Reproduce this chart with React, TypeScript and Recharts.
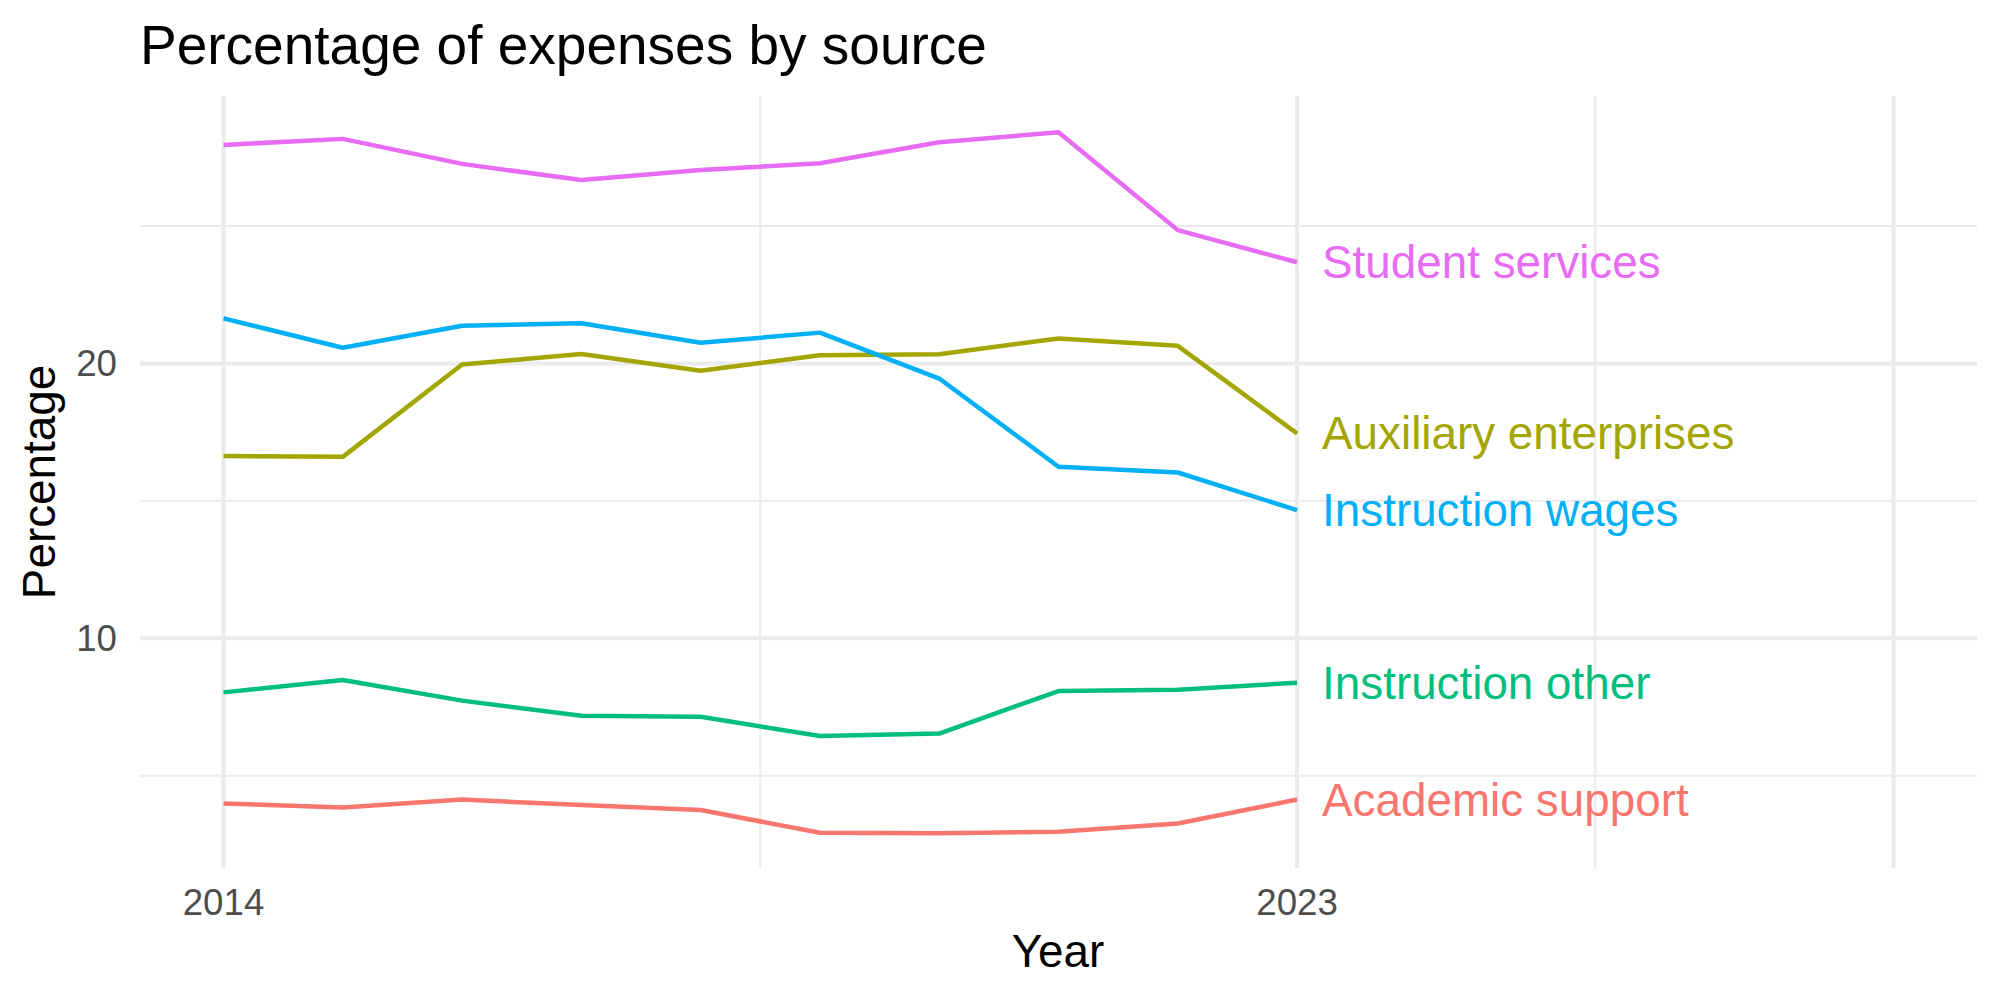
import React from 'react';
import { LineChart, Line, XAxis, YAxis, ReferenceLine, LabelList } from 'recharts';

const years = [2014, 2015, 2016, 2017, 2018, 2019, 2020, 2021, 2022, 2023];
const academicSupport = [3.99, 3.84, 4.13, 3.93, 3.75, 2.92, 2.9, 2.96, 3.26, 4.13];
const auxiliaryEnterprises = [16.63, 16.6, 19.96, 20.34, 19.73, 20.3, 20.33, 20.91, 20.64, 17.45];
const instructionOther = [8.03, 8.48, 7.73, 7.18, 7.14, 6.44, 6.53, 8.08, 8.13, 8.38];
const instructionWages = [21.64, 20.57, 21.37, 21.46, 20.75, 21.12, 19.45, 16.24, 16.03, 14.66];
const studentServices = [27.95, 28.17, 27.26, 26.67, 27.04, 27.28, 28.05, 28.41, 24.85, 23.68];

const seriesNames = ['Academic support', 'Auxiliary enterprises', 'Instruction other', 'Instruction wages', 'Student services'];
const seriesKeys = ['academicSupport', 'auxiliaryEnterprises', 'instructionOther', 'instructionWages', 'studentServices'];
const seriesColors = ['#F8766D', '#A3A500', '#00BF7D', '#00B0F6', '#E76BF3'];

const xTicks = [2014, 2023];
const xMajorGrid = [2014, 2023, 2028];
const xMinorGrid = [2018.5, 2025.5];
const yTicks = [10, 20];
const yMinorGrid = [5, 15, 25];
const xDomain = [2013.3, 2028.7];
const yDomain = [1.64, 29.73];

const data = years.map((year, i) => ({
  year,
  academicSupport: academicSupport[i],
  auxiliaryEnterprises: auxiliaryEnterprises[i],
  instructionOther: instructionOther[i],
  instructionWages: instructionWages[i],
  studentServices: studentServices[i],
}));

const FONT = '"Liberation Sans", Arial, Helvetica, sans-serif';

const XTick = (props: any) => (
  <text x={props.x} y={915} textAnchor="middle" fill="#4D4D4D" fontSize={36.7} fontFamily={FONT}>
    {props.payload.value}
  </text>
);

const YTick = (props: any) => (
  <text x={117} y={props.y + 13} textAnchor="end" fill="#4D4D4D" fontSize={36.7} fontFamily={FONT}>
    {props.payload.value}
  </text>
);

const makeEndLabel = (name: string, color: string) => (props: any) => {
  if (props.index !== years.length - 1) return null;
  return (
    <text x={props.x + 25} y={props.y} dy={16} textAnchor="start" fill={color} fontSize={45.8} fontFamily={FONT}>
      {name}
    </text>
  );
};

export default function App() {
  return (
    <div style={{ position: 'absolute', left: 0, top: 0, width: 2000, height: 1000, background: '#fff' }}>
      <LineChart width={2000} height={1000} data={data} margin={{ top: 96, right: 23, left: 0, bottom: 0 }}>
        {yMinorGrid.map((v) => (
          <ReferenceLine key={'ym' + v} y={v} stroke="#EBEBEB" strokeWidth={2} />
        ))}
        {xMinorGrid.map((v) => (
          <ReferenceLine key={'xm' + v} x={v} stroke="#EBEBEB" strokeWidth={2} />
        ))}
        {yTicks.map((v) => (
          <ReferenceLine key={'yM' + v} y={v} stroke="#EBEBEB" strokeWidth={4} />
        ))}
        {xMajorGrid.map((v) => (
          <ReferenceLine key={'xM' + v} x={v} stroke="#EBEBEB" strokeWidth={4} />
        ))}
        <XAxis
          dataKey="year"
          type="number"
          domain={xDomain}
          ticks={xTicks}
          allowDataOverflow
          axisLine={false}
          tickLine={false}
          height={132}
          tick={<XTick />}
        />
        <YAxis
          type="number"
          domain={yDomain}
          ticks={yTicks}
          allowDataOverflow
          axisLine={false}
          tickLine={false}
          width={140}
          tick={<YTick />}
        />
        {seriesKeys.map((k, i) => (
          <Line
            key={k}
            dataKey={k}
            stroke={seriesColors[i]}
            strokeWidth={4.5}
            dot={false}
            activeDot={false}
            isAnimationActive={false}
            strokeLinejoin="round"
          >
            <LabelList dataKey={k} content={makeEndLabel(seriesNames[i], seriesColors[i])} />
          </Line>
        ))}
      </LineChart>
      <svg width={2000} height={1000} style={{ position: 'absolute', left: 0, top: 0, pointerEvents: 'none' }}>
        <text x={140} y={64} fontSize={55} fill="#000" fontFamily={FONT}>
          Percentage of expenses by source
        </text>
        <text x={1058} y={967} fontSize={45.8} fill="#000" textAnchor="middle" fontFamily={FONT}>
          Year
        </text>
        <text
          x={0}
          y={0}
          transform="translate(55,482) rotate(-90)"
          fontSize={45.8}
          fill="#000"
          textAnchor="middle"
          fontFamily={FONT}
        >
          Percentage
        </text>
      </svg>
    </div>
  );
}
